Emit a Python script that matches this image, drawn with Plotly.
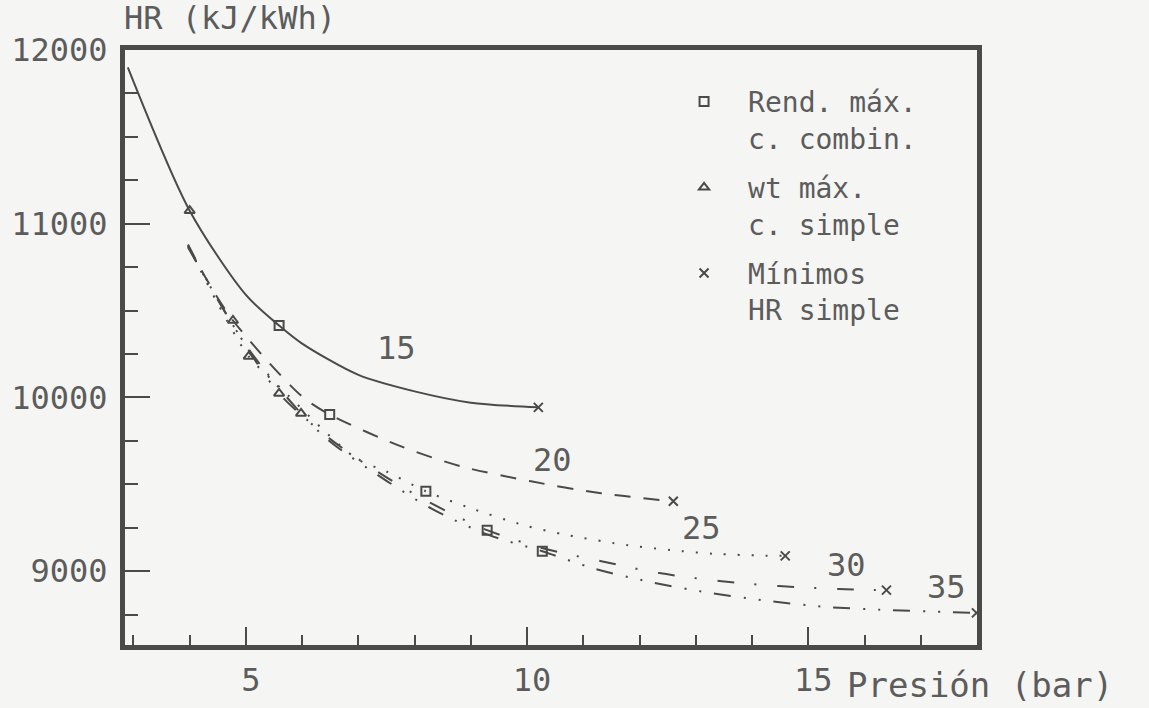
import plotly.graph_objects as go

# ---- data ----
x15 = [2.9, 4.0, 5.0, 5.59, 6.0, 7.0, 8.0, 9.0, 10.2]
y15 = [11900, 11075, 10590, 10414, 10310, 10130, 10035, 9970, 9943]

x20 = [3.97, 4.3, 4.77, 5.98, 6.49, 7.76, 8.83, 10.07, 11.32, 12.6]
y20 = [10880, 10680, 10443, 10011, 9902, 9718, 9603, 9517, 9448, 9402]

x25 = [3.97, 4.5, 5.05, 5.6, 6.96, 7.49, 8.2, 8.95, 9.95, 10.73, 11.8, 12.56, 13.33, 14.16, 14.59]
y25 = [10875, 10540, 10236, 10060, 9649, 9575, 9460, 9368, 9264, 9207, 9149, 9121, 9100, 9090, 9088]

x30 = [3.97, 4.8, 5.59, 6.5, 7.5, 8.3, 9.29, 10.3, 11.32, 12.35, 13.42, 14.48, 15.55, 16.39]
y30 = [10870, 10400, 10023, 9760, 9540, 9390, 9236, 9130, 9057, 8989, 8943, 8914, 8897, 8891]

x35 = [3.97, 5.0, 5.98, 6.5, 7.5, 8.3, 9.3, 10.27, 11.17, 12.2, 13.27, 14.3, 15.37, 16.44, 17.54, 17.99]
y35 = [10865, 10300, 9908, 9745, 9520, 9360, 9210, 9115, 9017, 8937, 8874, 8828, 8793, 8776, 8764, 8760]

sq_x = [5.59, 6.49, 8.2, 9.29, 10.27]
sq_y = [10414, 9902, 9460, 9236, 9115]
tri_x = [4.0, 4.77, 5.05, 5.59, 5.98]
tri_y = [11075, 10443, 10236, 10023, 9908]
cr_x = [10.2, 12.6, 14.59, 16.39, 17.99]
cr_y = [9943, 9402, 9088, 8891, 8760]

curve_labels = ["15", "20", "25", "30", "35"]
label_x = [7.67, 10.46, 13.1, 15.68, 17.46]
label_y = [10282, 9638, 9247, 9034, 8908]

legend_names = ["Rend. máx.<br>c. combin.", "wt máx.<br>c. simple", "Mínimos<br>HR simple"]

x_ticks = [5, 10, 15]
x_ticktext = ["5", "10", "15"]
y_ticks = [9000, 10000, 11000, 12000]
y_ticktext = ["9000", "10000", "11000", "12000"]

INK = "#4a4a4a"
TXT = "#5c5c5c"
BG = "#f5f5f3"
FONT = "DejaVu Sans Mono"

fig = go.Figure()

curves = [(x15, y15, "solid"),
          (x20, y20, "16px,13px"),
          (x25, y25, "2px,12px"),
          (x30, y30, "17px,20px,2px,21px"),
          (x35, y35, "17px,13px,2px,13px,2px,13px")]
for cx, cy, dash in curves:
    fig.add_trace(go.Scatter(x=cx, y=cy, mode="lines", showlegend=False,
                             line=dict(color=INK, width=2, dash=dash,
                                       shape="spline", smoothing=0.8),
                             hoverinfo="skip"))

mk = [(sq_x, sq_y, "square-open", legend_names[0]),
      (tri_x, tri_y, "triangle-up-open", legend_names[1]),
      (cr_x, cr_y, "x-thin-open", legend_names[2])]
for i, (mx, my, sym, nm) in enumerate(mk):
    fig.add_trace(go.Scatter(x=mx, y=my, mode="markers", name=nm,
                             legendgroup=f"g{i}",
                             marker=dict(symbol=sym, size=9, color=INK,
                                         line=dict(color=INK, width=2))))

for t, lx, ly in zip(curve_labels, label_x, label_y):
    fig.add_annotation(x=lx, y=ly, text=t, showarrow=False,
                       font=dict(family=FONT, size=32, color=TXT))

fig.add_annotation(xref="paper", yref="paper", x=-0.004, y=1.0, yshift=32,
                   xanchor="left", yanchor="middle", text="HR (kJ/kWh)",
                   showarrow=False, font=dict(family=FONT, size=32, color=TXT))
fig.add_annotation(xref="paper", yref="paper", x=1.0, y=0, yshift=-40, xshift=-132,
                   xanchor="left", yanchor="middle", text="Presión (bar)",
                   showarrow=False, font=dict(family=FONT, size=34, color=TXT))

fig.update_xaxes(range=[2.85, 18.0], tickvals=x_ticks, ticktext=x_ticktext,
                 ticks="inside", automargin=False, ticklabelshift=5,
                 ticklen=18, tickwidth=2, tickcolor=INK,
                 minor=dict(ticks="inside", ticklen=10, tickwidth=2,
                            tickcolor=INK, dtick=1, tick0=0),
                 showline=True, mirror=True, linewidth=5, linecolor=INK,
                 showgrid=False, zeroline=False, ticklabelstandoff=3,
                 tickfont=dict(family=FONT, size=32, color=TXT))
fig.update_yaxes(range=[8575, 12000], tickvals=y_ticks, ticktext=y_ticktext,
                 ticks="inside", automargin=False,
                 ticklen=25, tickwidth=2, tickcolor=INK,
                 minor=dict(ticks="inside", ticklen=13, tickwidth=2,
                            tickcolor=INK, dtick=250, tick0=0),
                 showline=True, mirror=True, linewidth=5, linecolor=INK,
                 showgrid=False, zeroline=False, ticklabelstandoff=6,
                 tickfont=dict(family=FONT, size=32, color=TXT))

fig.update_layout(width=1149, height=708,
                  margin=dict(l=125, r=172, t=50, b=63),
                  paper_bgcolor=BG, plot_bgcolor=BG,
                  legend=dict(x=0.628, y=0.955, xanchor="left", yanchor="top",
                              bgcolor="rgba(0,0,0,0)", valign="top",
                              itemwidth=78, tracegroupgap=10,
                              font=dict(family=FONT, size=28, color=TXT)))

fig.write_html("out.html")
